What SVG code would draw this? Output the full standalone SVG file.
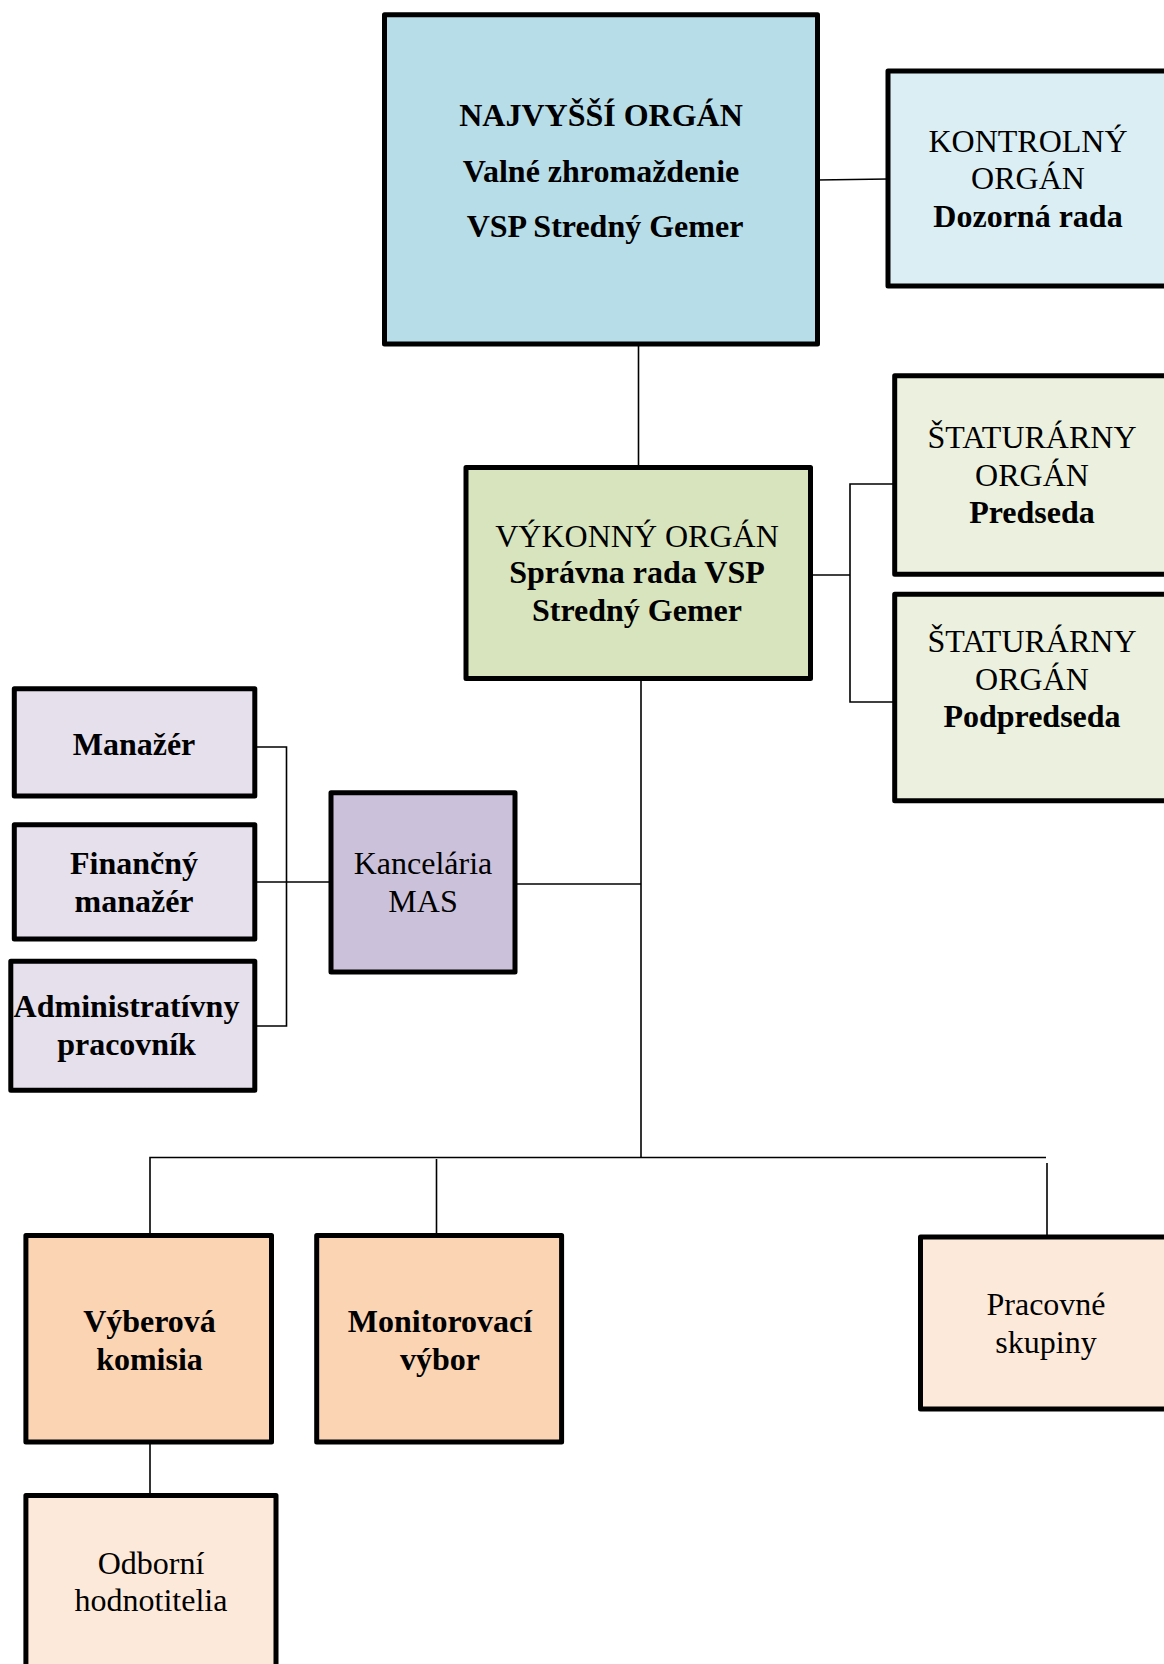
<svg xmlns="http://www.w3.org/2000/svg" width="1164" height="1664" viewBox="0 0 1164 1664">
<style>
.box{stroke:#000;stroke-width:5;stroke-linejoin:round}
.ln{stroke:#000;stroke-width:1.6;fill:none}
text{font-family:"Liberation Serif","Times New Roman",serif;font-size:32px;fill:#000;text-anchor:middle}
.b{font-weight:bold}
</style>
<rect width="1164" height="1664" fill="#fff"/>
<g id="connectors">
<line class="ln" x1="817" y1="180" x2="888" y2="179"/>
<line class="ln" x1="638.5" y1="344" x2="638.5" y2="467"/>
<line class="ln" x1="810" y1="575" x2="850" y2="575"/>
<polyline class="ln" points="894,484 850,484 850,702 894,702"/>
<line class="ln" x1="641" y1="678" x2="641" y2="1158"/>
<polyline class="ln" points="255,747 286.5,747 286.5,1026 255,1026"/>
<line class="ln" x1="255" y1="882" x2="331" y2="882"/>
<line class="ln" x1="515" y1="884" x2="641" y2="884"/>
<polyline class="ln" points="150,1235 150,1157.5 1046,1157.5"/>
<line class="ln" x1="436.5" y1="1159" x2="436.5" y2="1235"/>
<line class="ln" x1="1047" y1="1163" x2="1047" y2="1237"/>
<line class="ln" x1="150" y1="1442" x2="150" y2="1495"/>
</g>
<g id="najvyssi">
<rect class="box" x="384.5" y="14.8" width="433" height="329.2" fill="#b7dde8"/>
<text class="b" x="601" y="126">NAJVYŠŠÍ ORGÁN</text>
<text class="b" x="601" y="182">Valné zhromaždenie</text>
<text class="b" x="605" y="237">VSP Stredný Gemer</text>
</g>
<g id="kontrolny">
<rect class="box" x="888" y="71" width="290" height="215" fill="#dbeef3"/>
<text x="1028" y="152">KONTROLNÝ</text>
<text x="1028" y="189">ORGÁN</text>
<text class="b" x="1028" y="227">Dozorná rada</text>
</g>
<g id="vykonny">
<rect class="box" x="466" y="467.5" width="344.5" height="211" fill="#d7e4bd"/>
<text x="637" y="547">VÝKONNÝ ORGÁN</text>
<text class="b" x="637" y="583">Správna rada VSP</text>
<text class="b" x="637" y="621">Stredný Gemer</text>
</g>
<g id="predseda">
<rect class="box" x="894.7" y="375.7" width="290" height="198.6" fill="#ebf1de"/>
<text x="1032" y="448">ŠTATURÁRNY</text>
<text x="1032" y="486">ORGÁN</text>
<text class="b" x="1032" y="523">Predseda</text>
</g>
<g id="podpredseda">
<rect class="box" x="894.7" y="594.3" width="290" height="206.4" fill="#ebf1de"/>
<text x="1032" y="652">ŠTATURÁRNY</text>
<text x="1032" y="690">ORGÁN</text>
<text class="b" x="1032" y="727">Podpredseda</text>
</g>
<g id="manazer">
<rect class="box" x="14.3" y="688.7" width="240.5" height="107.3" fill="#e5e0ec"/>
<text class="b" x="134" y="755">Manažér</text>
</g>
<g id="financny">
<rect class="box" x="14.3" y="824.7" width="240.5" height="114.3" fill="#e5e0ec"/>
<text class="b" x="134" y="874">Finančný</text>
<text class="b" x="134" y="912">manažér</text>
</g>
<g id="administrativny">
<rect class="box" x="10.8" y="961.3" width="244" height="129" fill="#e5e0ec"/>
<text class="b" x="126.5" y="1017">Administratívny</text>
<text class="b" x="126.5" y="1055">pracovník</text>
</g>
<g id="kancelaria">
<rect class="box" x="331" y="792.7" width="184" height="179.3" fill="#ccc1da"/>
<text x="423" y="874">Kancelária</text>
<text x="423" y="912">MAS</text>
</g>
<g id="vyberova">
<rect class="box" x="25.9" y="1235.6" width="245.6" height="206.4" fill="#fbd4b4"/>
<text class="b" x="149.5" y="1332">Výberová</text>
<text class="b" x="149.5" y="1370">komisia</text>
</g>
<g id="monitorovaci">
<rect class="box" x="316.7" y="1235.6" width="244.9" height="206.4" fill="#fbd4b4"/>
<text class="b" x="440" y="1332">Monitorovací</text>
<text class="b" x="440" y="1370">výbor</text>
</g>
<g id="pracovne">
<rect class="box" x="920.5" y="1237" width="260" height="172" fill="#fde9d9"/>
<text x="1046" y="1315">Pracovné</text>
<text x="1046" y="1353">skupiny</text>
</g>
<g id="odborni">
<rect class="box" x="25.9" y="1495.5" width="250.1" height="190" fill="#fde9d9"/>
<text x="151" y="1574">Odborní</text>
<text x="151" y="1611">hodnotitelia</text>
</g>
</svg>
